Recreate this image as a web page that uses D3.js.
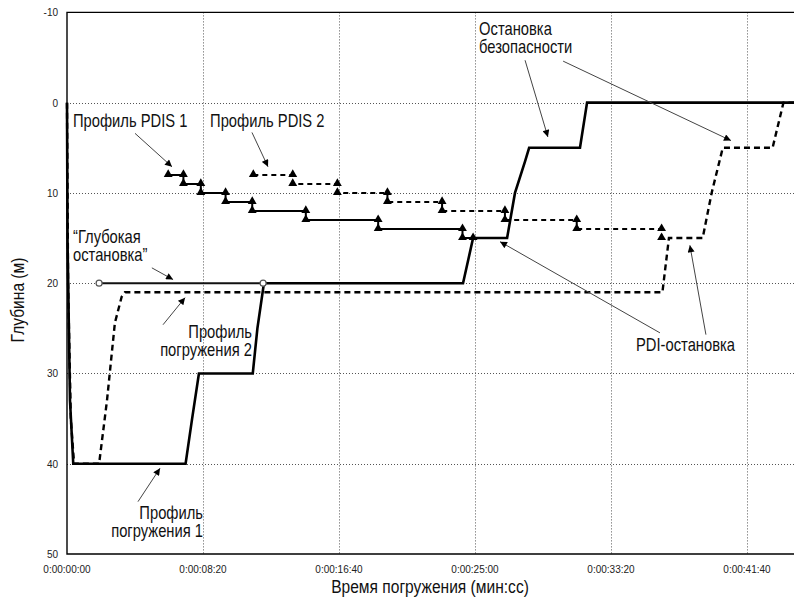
<!DOCTYPE html>
<html lang="ru">
<head>
    <meta charset="UTF-8">
    <title>Профили погружения</title>
    <script src="https://d3js.org/d3.v7.min.js"></script>
    <style>
        body { margin: 0; background: #fff; }
        .tick-label { font: 10px "Liberation Sans", Arial, sans-serif; fill: #222; }
        .note { font-family: "Liberation Sans", Arial, sans-serif; font-size: 18px; fill: #111; }
        .axis-title { font-family: "Liberation Sans", Arial, sans-serif; font-size: 19px; fill: #111; }
        .grid line { stroke: #555; stroke-width: 1; stroke-dasharray: 1,2; }
    </style>
</head>
<body>
<svg id="chart" width="794" height="599"></svg>
<script>
    // axis ticks
    var depthTicks = [-10, 0, 10, 20, 30, 40, 50];
    var timeTicks = [0, 500, 1000, 1500, 2000, 2500];

    // [seconds, depth m]
    var profile1 = [[0, 0], [2, 15.5], [11, 33], [23, 40], [436, 40], [460, 35], [485, 30], [683, 30],
        [700, 25], [724, 20], [1456, 20], [1493, 15], [1618, 15], [1647, 10], [1684, 6.5], [1699, 5],
        [1886, 5], [1912, 0], [2700, 0]];
    var profile2 = [[0, 0], [4, 20], [14, 35], [26, 40], [118, 40], [147, 33], [176, 24.4], [201, 21.5],
        [213, 21], [2189, 21], [2213, 15], [2337, 15], [2370, 10], [2411, 5], [2594, 5], [2634, 0], [2700, 0]];
    var pdis1 = [[372, 8], [428, 8], [428, 9], [492, 9], [492, 10], [583, 10], [583, 11], [681, 11],
        [681, 12], [878, 12], [878, 13], [1144, 13], [1144, 14], [1454, 14], [1454, 15], [1493, 15]];
    var pdis2 = [[685, 8], [830, 8], [830, 9], [994, 9], [994, 10], [1178, 10], [1178, 11], [1379, 11],
        [1379, 12], [1610, 12], [1610, 13], [1874, 13], [1874, 14], [2186, 14], [2186, 15]];
    var deepStop = [[118, 20], [721, 20]];

    // text notes: position in data units, anchor
    var notes = [
        {lines: ["Профиль PDIS 1"], t: 22, d: 2.7, anchor: "start"},
        {lines: ["Профиль PDIS 2"], t: 526, d: 2.7, anchor: "start"},
        {lines: ["“Глубокая", "остановка”"], t: 22, d: 15.6, anchor: "start"},
        {lines: ["Профиль", "погружения 2"], t: 680, d: 26.1, anchor: "end"},
        {lines: ["Профиль", "погружения 1"], t: 500, d: 46.1, anchor: "end"},
        {lines: ["Остановка", "безопасности"], t: 1515, d: -7.5, anchor: "start"},
        {lines: ["PDI-остановка"], t: 2092, d: 27.5, anchor: "start"}
    ];
    // arrows: from [t, d] to [t, d]
    var arrows = [
        [[250, 3.4], [386, 7.1]],
        [[680, 3.3], [739, 7.1]],
        [[312, 18.3], [390, 19.6]],
        [[353, 24.6], [434, 21.6]],
        [[261, 44.2], [342, 40.5]],
        [[1684, -4.7], [1768, 3.8]],
        [[1824, -4.6], [2441, 4.2]],
        [[2180, 25.5], [1592, 15.4]],
        [[2349, 25.7], [2290, 15.8]]
    ];

    var svg = d3.select("#chart");
    var mLeft = 67, mTop = 12.4, mBottom = 554, mRight = 794;
    var narrow = 0.82;

    var x = d3.scaleLinear().domain([0, 2700]).range([mLeft, mLeft + 2700 * 0.272]);
    var y = d3.scaleLinear().domain([-10, 50]).range([mTop, mBottom]);

    function fmtTime(s) {
        var m = Math.floor(s / 60), sec = s % 60;
        return "0:00:" + d3.format("02")(m) + ":" + d3.format("02")(sec);
    }

    // grid
    var grid = svg.append("g").attr("class", "grid");
    grid.selectAll(".v").data(timeTicks.slice(1)).enter().append("line")
        .attr("x1", function (d) { return Math.round(x(d)) + 0.5; })
        .attr("x2", function (d) { return Math.round(x(d)) + 0.5; })
        .attr("y1", mTop).attr("y2", mBottom);
    grid.selectAll(".h").data(depthTicks.slice(1, -1)).enter().append("line")
        .attr("y1", function (d) { return Math.round(y(d)) + 0.5; })
        .attr("y2", function (d) { return Math.round(y(d)) + 0.5; })
        .attr("x1", mLeft).attr("x2", mRight);

    // frame
    svg.append("path")
        .attr("d", "M" + mRight + "," + mTop + "H" + mLeft + "V" + mBottom + "H" + mRight)
        .attr("fill", "none").attr("stroke", "#000").attr("stroke-width", 1.4);

    // tick labels
    svg.append("g").selectAll("text").data(depthTicks).enter().append("text")
        .attr("class", "tick-label")
        .attr("x", 58).attr("y", function (d) { return y(d) + 4; })
        .attr("text-anchor", "end")
        .text(function (d) { return d; });
    svg.append("g").selectAll("text").data(timeTicks).enter().append("text")
        .attr("class", "tick-label")
        .attr("x", function (d) { return x(d); }).attr("y", 573)
        .attr("text-anchor", "middle")
        .text(fmtTime);

    var line = d3.line().x(function (d) { return x(d[0]); }).y(function (d) { return y(d[1]); });
    var plot = svg.append("g");

    plot.append("path").datum(profile2).attr("d", line)
        .attr("fill", "none").attr("stroke", "#000").attr("stroke-width", 2.4)
        .attr("stroke-dasharray", "6,4");
    plot.append("path").datum(pdis2).attr("d", line)
        .attr("fill", "none").attr("stroke", "#000").attr("stroke-width", 2)
        .attr("stroke-dasharray", "5,4");
    plot.append("path").datum(pdis1).attr("d", line)
        .attr("fill", "none").attr("stroke", "#000").attr("stroke-width", 2);
    plot.append("path").datum(deepStop).attr("d", line)
        .attr("fill", "none").attr("stroke", "#111").attr("stroke-width", 2);
    plot.append("path").datum(profile1).attr("d", line)
        .attr("fill", "none").attr("stroke", "#000").attr("stroke-width", 2.6);

    var tri = d3.symbol().type(d3.symbolTriangle).size(34);
    plot.append("g").selectAll("path").data(pdis1.concat(pdis2)).enter().append("path")
        .attr("d", tri)
        .attr("transform", function (d) { return "translate(" + x(d[0]) + "," + (y(d[1]) - 0.5) + ")"; })
        .attr("fill", "#000");

    plot.append("g").selectAll("circle").data(deepStop).enter().append("circle")
        .attr("cx", function (d) { return x(d[0]); })
        .attr("cy", function (d) { return y(d[1]); })
        .attr("r", 3).attr("fill", "#fff").attr("stroke", "#555").attr("stroke-width", 1.2);

    // arrows
    svg.append("defs").append("marker")
        .attr("id", "head").attr("viewBox", "0 0 10 10")
        .attr("refX", 10).attr("refY", 5)
        .attr("markerWidth", 9).attr("markerHeight", 7)
        .attr("markerUnits", "userSpaceOnUse")
        .attr("orient", "auto")
        .append("path").attr("d", "M0,0L10,5L0,10Z").attr("fill", "#000");

    svg.append("g").selectAll("line").data(arrows).enter().append("line")
        .attr("x1", function (d) { return x(d[0][0]); })
        .attr("y1", function (d) { return y(d[0][1]); })
        .attr("x2", function (d) { return x(d[1][0]); })
        .attr("y2", function (d) { return y(d[1][1]); })
        .attr("stroke", "#444").attr("stroke-width", 1)
        .attr("marker-end", "url(#head)");

    // notes (condensed look: horizontally squeezed)
    var noteG = svg.append("g").selectAll("text").data(notes).enter().append("text")
        .attr("class", "note")
        .attr("text-anchor", function (d) { return d.anchor; })
        .attr("transform", function (d) {
            return "translate(" + x(d.t) + "," + y(d.d) + ") scale(" + narrow + ",1)";
        });
    noteG.selectAll("tspan").data(function (d) {
        return d.lines.map(function (l, i) { return {text: l, i: i}; });
    }).enter().append("tspan")
        .attr("x", 0)
        .attr("dy", function (d) { return d.i === 0 ? 0 : 18; })
        .text(function (d) { return d.text; });

    // axis titles
    svg.append("text").attr("class", "axis-title")
        .attr("transform", "translate(24,300) rotate(-90) scale(" + narrow + ",1)")
        .attr("text-anchor", "middle")
        .text("Глубина (м)");
    svg.append("text").attr("class", "axis-title")
        .attr("transform", "translate(430,593) scale(" + narrow + ",1)")
        .attr("text-anchor", "middle")
        .text("Время погружения (мин:сс)");
</script>
</body>
</html>
